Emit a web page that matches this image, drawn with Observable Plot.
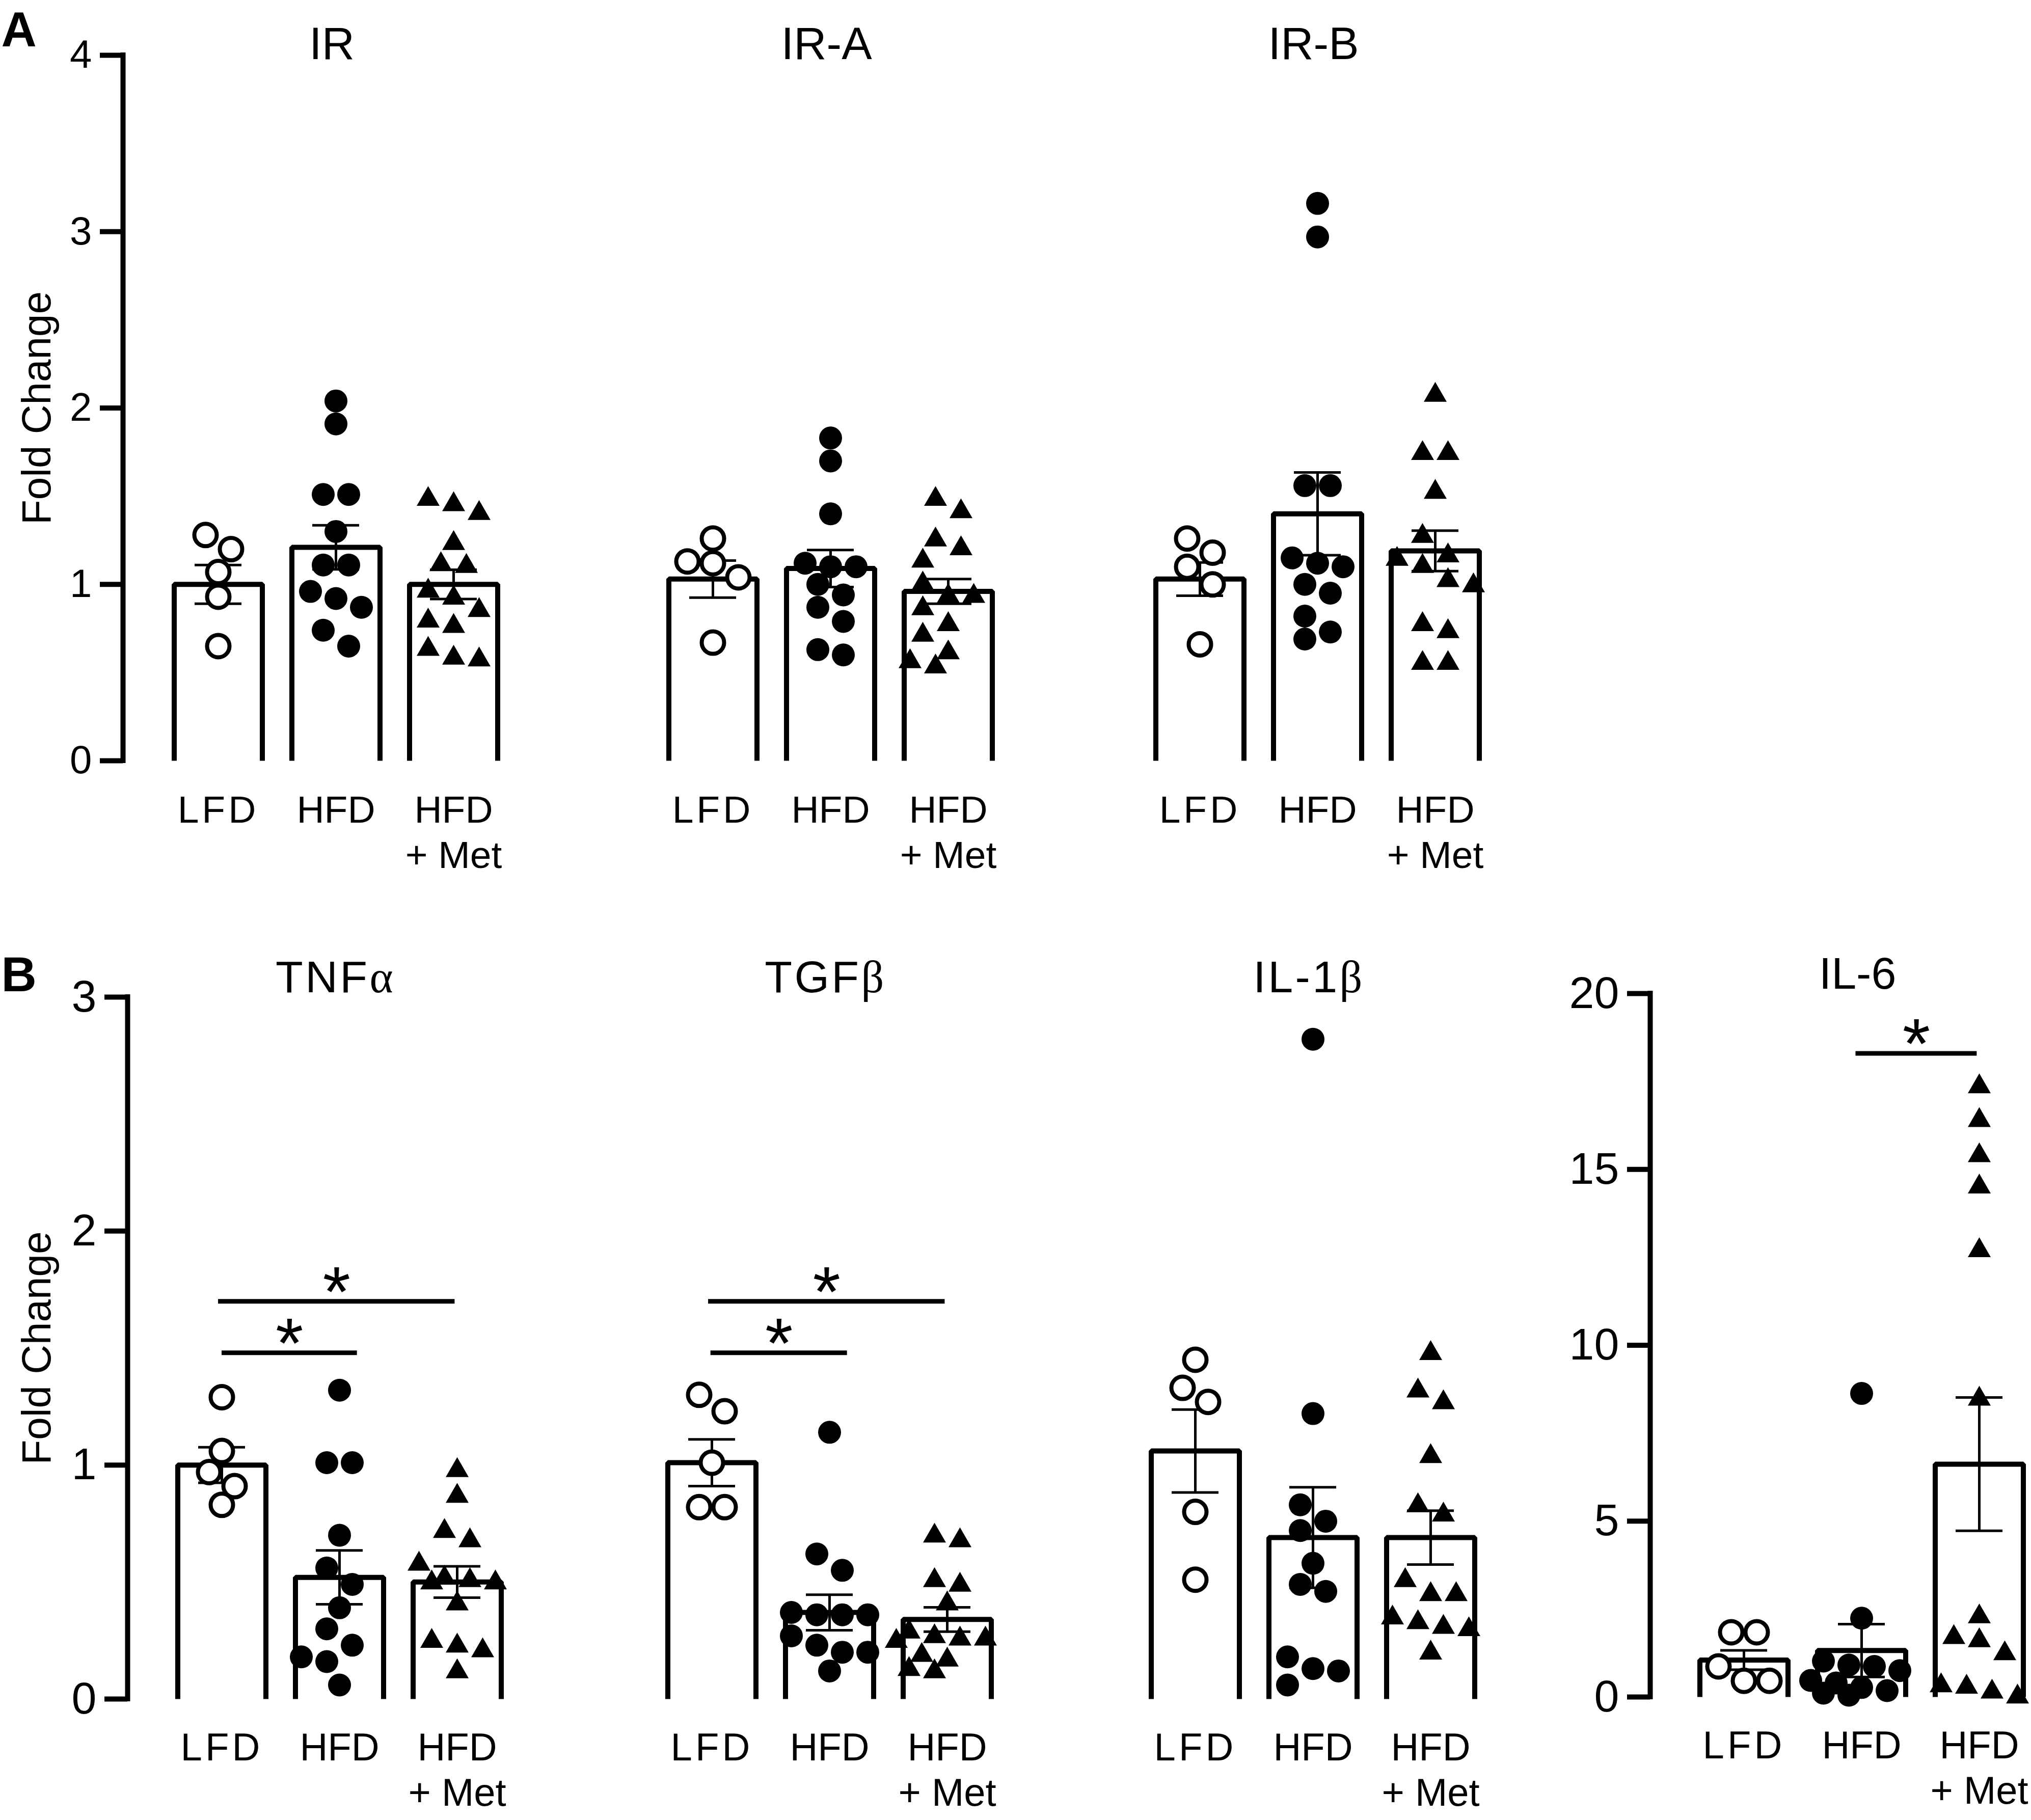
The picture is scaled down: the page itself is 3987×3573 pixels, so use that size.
<!DOCTYPE html>
<html>
<head>
<meta charset="utf-8">
<script src="https://cdn.jsdelivr.net/npm/d3@7"></script>
<script src="https://cdn.jsdelivr.net/npm/@observablehq/plot@0.6"></script>
<style>
html, body { margin: 0; padding: 0; background: #fff; }
#fig { position: relative; width: 3987px; height: 3573px; background: #fff; overflow: hidden; }
#fig svg { position: absolute; left: 0; top: 0; }
</style>
</head>
<body>
<div id="fig"></div>
<script>
// ---------------- DATA ----------------
const groups = ["LFD", "HFD", "HFD + Met"];
const groupLabels = ["LFD", "HFD", "HFD\n+ Met"];
const rowATitles = ["IR", "IR-A", "IR-B"];
const rowBTitles = ["TNFα", "TGFβ", "IL-1β", "IL-6"];
const panelLetters = ["A", "B"];
const yLabel = "Fold Change";
const ticksA = [0, 1, 2, 3, 4];
const ticksB = [0, 1, 2, 3];
const ticksIL6 = [0, 5, 10, 15, 20];

// IR
const IR_LFD = [1.28, 1.20, 1.07, 0.93, 0.65];
const IR_HFD = [2.04, 1.91, 1.51, 1.51, 1.30, 1.11, 1.11, 0.96, 0.92, 0.87, 0.74, 0.65];
const IR_MET = [1.50, 1.47, 1.42, 1.25, 1.13, 1.12, 0.98, 0.94, 0.87, 0.81, 0.78, 0.65, 0.60, 0.59];
const IR_mean = [1.00, 1.21, 1.00];
const IR_sem = [0.11, 0.125, 0.083];
// IR-A
const IRA_LFD = [1.26, 1.13, 1.12, 1.04, 0.67];
const IRA_HFD = [1.83, 1.70, 1.40, 1.12, 1.10, 1.10, 1.00, 0.94, 0.87, 0.79, 0.63, 0.60];
const IRA_MET = [1.50, 1.43, 1.27, 1.22, 1.15, 1.02, 0.95, 0.95, 0.88, 0.79, 0.73, 0.63, 0.58, 0.55];
const IRA_mean = [1.03, 1.09, 0.96];
const IRA_sem = [0.105, 0.105, 0.07];
// IR-B
const IRB_LFD = [1.26, 1.18, 1.10, 1.00, 0.66];
const IRB_HFD = [3.16, 2.97, 1.56, 1.56, 1.15, 1.12, 1.10, 1.00, 0.95, 0.82, 0.73, 0.69];
const IRB_MET = [2.09, 1.76, 1.76, 1.54, 1.29, 1.18, 1.16, 1.12, 1.04, 1.01, 0.79, 0.75, 0.57, 0.57];
const IRB_mean = [1.03, 1.40, 1.19];
const IRB_sem = [0.094, 0.235, 0.115];
// TNFα
const TNF_LFD = [1.29, 1.06, 0.97, 0.91, 0.83];
const TNF_HFD = [1.32, 1.01, 1.01, 0.70, 0.56, 0.49, 0.39, 0.30, 0.23, 0.18, 0.16, 0.06];
const TNF_MET = [0.99, 0.88, 0.73, 0.69, 0.59, 0.53, 0.52, 0.51, 0.51, 0.42, 0.26, 0.24, 0.22, 0.13];
const TNF_mean = [1.00, 0.52, 0.50];
const TNF_sem = [0.076, 0.115, 0.067];
const TNF_sig = [{from: 0, to: 1.15, y: 1.48}, {from: -0.03, to: 1.98, y: 1.70}];
// TGFβ
const TGF_LFD = [1.30, 1.23, 1.01, 0.82, 0.82];
const TGF_HFD = [1.14, 0.62, 0.55, 0.37, 0.36, 0.36, 0.36, 0.27, 0.23, 0.20, 0.20, 0.12];
const TGF_MET = [0.71, 0.69, 0.52, 0.50, 0.42, 0.30, 0.28, 0.27, 0.27, 0.26, 0.20, 0.18, 0.14, 0.13];
const TGF_mean = [1.01, 0.37, 0.34];
const TGF_sem = [0.10, 0.076, 0.052];
const TGF_sig = [{from: -0.01, to: 1.15, y: 1.48}, {from: -0.03, to: 1.98, y: 1.70}];
// IL-1β
const IL1B_LFD = [1.45, 1.33, 1.27, 0.80, 0.51];
const IL1B_HFD = [2.82, 1.22, 0.83, 0.76, 0.72, 0.58, 0.49, 0.46, 0.18, 0.13, 0.12, 0.06];
const IL1B_MET = [1.49, 1.33, 1.28, 1.05, 0.84, 0.80, 0.52, 0.46, 0.46, 0.36, 0.34, 0.32, 0.31, 0.21];
const IL1B_mean = [1.06, 0.69, 0.69];
const IL1B_sem = [0.177, 0.215, 0.115];
// IL-6
const IL6_LFD = [1.84, 1.84, 0.87, 0.46, 0.46];
const IL6_HFD = [8.63, 2.24, 1.02, 0.91, 0.87, 0.75, 0.47, 0.40, 0.27, 0.18, 0.11, 0.05];
const IL6_MET = [17.44, 16.48, 15.48, 14.59, 12.78, 8.56, 2.37, 1.78, 1.69, 1.32, 0.41, 0.37, 0.23, 0.09];
const IL6_mean = [1.05, 1.32, 6.62];
const IL6_sem = [0.275, 0.75, 1.895];
const IL6_sig = [{from: 0.95, to: 1.98, y: 18.3}];

// ---------------- LAYOUT / STYLE ----------------
const W = 3987, H = 3573;
const STEP = 231;          // px between group centres
const HALF = 86.5;         // half bar width (px)
const CAPW = 46;           // half error-cap width (px)
const FONT = "'Liberation Sans', Arial, Helvetica, sans-serif";
const SERIF = "'Liberation Serif', 'Times New Roman', serif";

const rowA = {y0: 1493, yTop: 108, ymax: 4, ticks: ticksA, tickFont: 78, titleDy: 7, titleFont: 89,
  labelCapTop: 68, labelFont: 75, lineHeight: 1.19, letterBase: 90};
const rowB = {y0: 3335, yTop: 1957, ymax: 3, ticks: ticksB, tickFont: 88, titleDy: -10, titleFont: 88,
  labelCapTop: 67, labelFont: 76, lineHeight: 1.17, letterBase: 1945};

// spread points horizontally (GraphPad-like scatter layout)
function swarm(values, pxPerUnit) {
  const S = 50, ROW_H = 40, MAX_ROW = 4, D = 42;
  const sorted = values.slice().sort((a, b) => b - a);
  const rows = [];
  for (const v of sorted) {
    const r = rows[rows.length - 1];
    if (r && (r.start - v) * pxPerUnit < ROW_H && r.vals.length < MAX_ROW) r.vals.push(v);
    else rows.push({start: v, vals: [v]});
  }
  const placed = [];
  for (const r of rows) {
    const n = r.vals.length;
    const base = r.vals.map((v, k) => ({v, o: (k - (n - 1) / 2) * S}));
    let best = 0, bestD = -1;
    for (const sh of [0, S / 2, -S / 2, S, -S]) {
      let md = Infinity;
      for (const b of base) for (const p of placed) {
        md = Math.min(md, Math.hypot(b.o + sh - p.o, (b.v - p.v) * pxPerUnit));
      }
      if (md >= D) { best = sh; bestD = md; break; }
      if (md > bestD) { bestD = md; best = sh; }
    }
    base.forEach(b => placed.push({v: b.v, o: b.o + best}));
  }
  return placed;
}

function panel(cfg) {
  const {title, lists, mean, sem, c0, axisX, y0, yTop, ymax, ticks, tickFont, titleDy, titleFont,
    labelCapTop, labelFont, lineHeight, letter, letterBase, fold, sig} = cfg;
  const pxPerUnit = (y0 - yTop) / ymax;
  const ml = axisX != null ? axisX : c0 - 200;
  const pts = [];
  lists.forEach((vals, g) => swarm(vals, pxPerUnit).forEach(p => pts.push({g, value: p.v, x: g + p.o / STEP})));
  const h = HALF / STEP, cw = CAPW / STEP;
  const bars = [];
  mean.forEach((m, g) => bars.push({g, x: g - h, y: 0}, {g, x: g - h, y: m}, {g, x: g + h, y: m}, {g, x: g + h, y: 0}));
  const errs = mean.map((m, g) => ({g, lo: m - sem[g], hi: m + sem[g]}));
  // Plot scales the top-line offset (0.71em) by lineHeight; compensate so cap tops sit at labelCapTop
  const labelDy = labelCapTop - 0.71 * (lineHeight - 1) * labelFont;

  const marks = [
    Plot.line(bars, {x: "x", y: "y", z: "g", stroke: "black", strokeWidth: 10, strokeLinejoin: "miter", strokeLinecap: "butt"}),
    Plot.ruleX(errs, {x: "g", y1: "lo", y2: "hi", stroke: "black", strokeWidth: 5}),
    Plot.ruleY(errs, {y: "hi", x1: d => d.g - cw, x2: d => d.g + cw, stroke: "black", strokeWidth: 5}),
    Plot.ruleY(errs, {y: "lo", x1: d => d.g - cw, x2: d => d.g + cw, stroke: "black", strokeWidth: 5}),
    Plot.dot(pts.filter(d => d.g === 0), {x: "x", y: "value", r: 22, fill: "white", stroke: "black", strokeWidth: 8}),
    Plot.dot(pts.filter(d => d.g === 1), {x: "x", y: "value", r: 22.5, fill: "black", stroke: "none"}),
    Plot.dot(pts.filter(d => d.g === 2), {x: "x", y: "value", r: 16.7, symbol: "triangle", fill: "black", stroke: "none", dy: 6}),
    Plot.text(groupLabels, {x: (d, i) => i, y: () => 0, text: d => d, lineAnchor: "top", dy: labelDy,
      fontSize: labelFont, lineHeight, fill: "black"}),
    Plot.text([title], {x: () => 1, y: () => ymax, text: d => d, lineAnchor: "bottom", dy: titleDy, dx: -8,
      fontSize: titleFont, fill: "black"})
  ];
  if (sig) {
    marks.push(
      Plot.ruleY(sig, {y: "y", x1: "from", x2: "to", stroke: "black", strokeWidth: 9}),
      Plot.text(sig, {x: d => (d.from + d.to) / 2, y: "y", text: () => "*", lineAnchor: "bottom", dy: 29,
        fontSize: 140, fill: "black"})
    );
  }
  if (axisX != null) {
    marks.push(
      Plot.ruleX([(axisX - c0) / STEP], {x: d => d, y1: () => 0, y2: () => ymax, stroke: "black", strokeWidth: 10, strokeLinecap: "square"}),
      Plot.axisY(ticks, {anchor: "left", tickSize: 45, tickPadding: 16, strokeWidth: 10, fontSize: tickFont,
        label: null, tickFormat: d => String(d), fill: "black", stroke: "black"})
    );
  }
  if (fold) {
    marks.push(Plot.text([yLabel], {frameAnchor: "left", dx: 98 - axisX, rotate: -90, text: d => d,
      textAnchor: "middle", lineAnchor: "bottom", fontSize: 80, fill: "black"}));
  }
  if (letter) {
    marks.push(Plot.text([letter], {frameAnchor: "top-left", dx: 2 - axisX, dy: letterBase - yTop, text: d => d,
      textAnchor: "start", lineAnchor: "bottom", fontSize: 96, fontWeight: "bold", fill: "black"}));
  }
  const svg = Plot.plot({
    width: W, height: H,
    marginLeft: ml, marginRight: 5, marginTop: yTop, marginBottom: H - y0,
    x: {type: "linear", domain: [0, 2], range: [c0, c0 + 2 * STEP], axis: null},
    y: {type: "linear", domain: [0, ymax], axis: null},
    style: {background: "transparent", fontFamily: FONT, overflow: "visible", color: "black"},
    marks
  });
  // typographic touches: letter-spaced LFD, Greek letters in serif
  svg.querySelectorAll("text").forEach(t => {
    if (t.children.length === 0 && t.textContent === "LFD") t.setAttribute("letter-spacing", "0.08em");
    if (t.children.length === 0 && /[αβ]/.test(t.textContent)) {
      const s = t.textContent; t.textContent = "";
      t.setAttribute("letter-spacing", "0.05em");
      for (const part of s.split(/([αβ])/)) {
        if (!part) continue;
        const ts = document.createElementNS("http://www.w3.org/2000/svg", "tspan");
        ts.textContent = part;
        if (/[αβ]/.test(part)) ts.setAttribute("font-family", SERIF);
        t.appendChild(ts);
      }
    }
  });
  return svg;
}

const panels = [
  {...rowA, title: rowATitles[0], lists: [IR_LFD, IR_HFD, IR_MET], mean: IR_mean, sem: IR_sem, c0: 428, axisX: 241, letter: panelLetters[0], fold: true},
  {...rowA, title: rowATitles[1], lists: [IRA_LFD, IRA_HFD, IRA_MET], mean: IRA_mean, sem: IRA_sem, c0: 1399},
  {...rowA, title: rowATitles[2], lists: [IRB_LFD, IRB_HFD, IRB_MET], mean: IRB_mean, sem: IRB_sem, c0: 2355},
  {...rowB, title: rowBTitles[0], lists: [TNF_LFD, TNF_HFD, TNF_MET], mean: TNF_mean, sem: TNF_sem, c0: 435, axisX: 250, letter: panelLetters[1], fold: true, sig: TNF_sig},
  {...rowB, title: rowBTitles[1], lists: [TGF_LFD, TGF_HFD, TGF_MET], mean: TGF_mean, sem: TGF_sem, c0: 1397, sig: TGF_sig},
  {...rowB, title: rowBTitles[2], lists: [IL1B_LFD, IL1B_HFD, IL1B_MET], mean: IL1B_mean, sem: IL1B_sem, c0: 2346},
  {...rowB, title: rowBTitles[3], lists: [IL6_LFD, IL6_HFD, IL6_MET], mean: IL6_mean, sem: IL6_sem, c0: 3423, axisX: 3239,
    y0: 3331, yTop: 1950, ymax: 20, ticks: ticksIL6, sig: IL6_sig}
];

const fig = document.getElementById("fig");
for (const p of panels) fig.appendChild(panel(p));
</script>
</body>
</html>
